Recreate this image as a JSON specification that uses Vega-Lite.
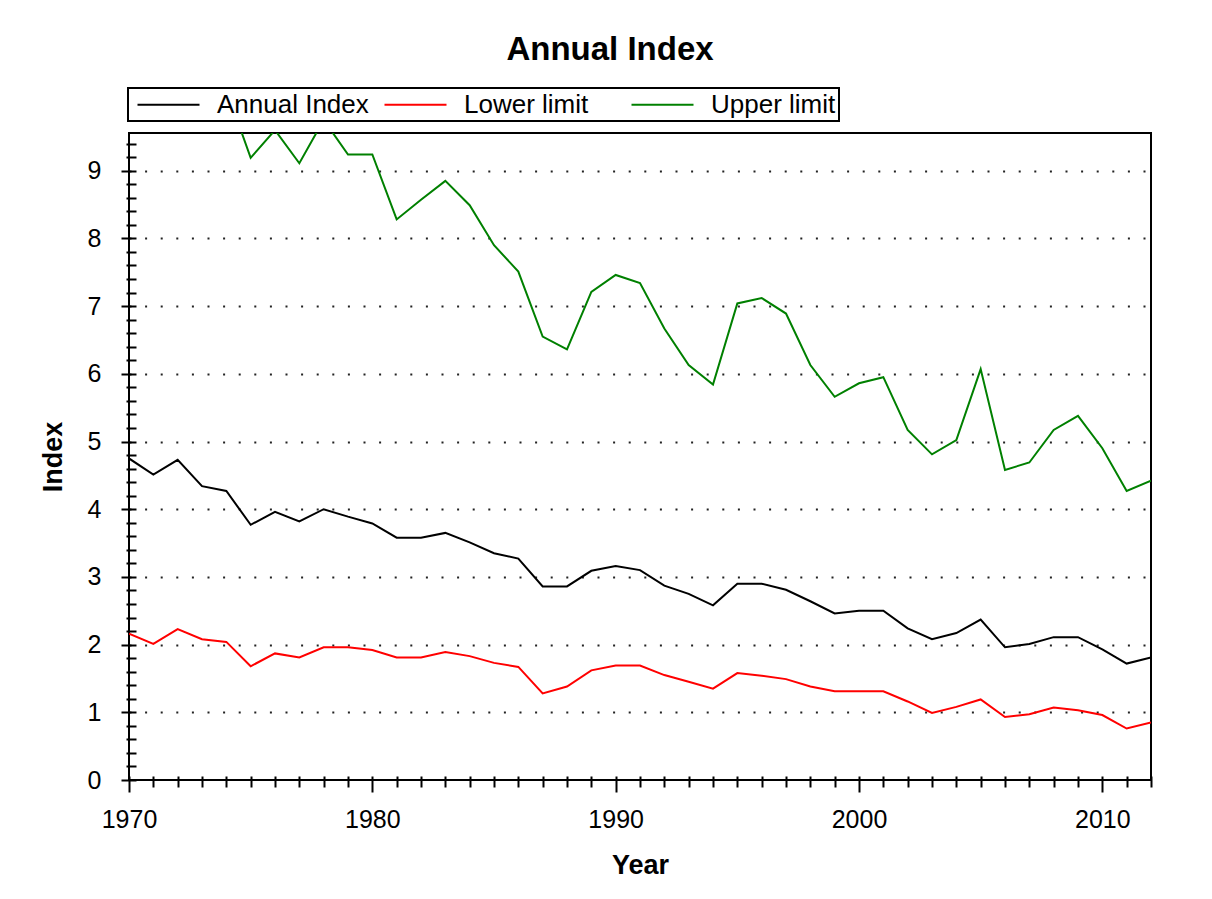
{
  "$schema": "https://vega.github.io/schema/vega-lite/v6.json",
  "width": 1022,
  "height": 647,
  "autosize": {"type": "none"},
  "padding": {"left": 129, "top": 133, "right": 61, "bottom": 119},
  "background": "white",
  "title": {"text": "Annual Index", "font": "Liberation Sans", "fontSize": 33, "fontWeight": "bold", "color": "black", "anchor": "middle", "offset": 20, "dx": -30},
  "data": {"values": [
    {"Year": 1970, "Series": "Annual Index", "Index": 4.75}, {"Year": 1971, "Series": "Annual Index", "Index": 4.51}, {"Year": 1972, "Series": "Annual Index", "Index": 4.73}, {"Year": 1973, "Series": "Annual Index", "Index": 4.34}, {"Year": 1974, "Series": "Annual Index", "Index": 4.27},
    {"Year": 1975, "Series": "Annual Index", "Index": 3.77}, {"Year": 1976, "Series": "Annual Index", "Index": 3.96}, {"Year": 1977, "Series": "Annual Index", "Index": 3.82}, {"Year": 1978, "Series": "Annual Index", "Index": 4.00}, {"Year": 1979, "Series": "Annual Index", "Index": 3.89},
    {"Year": 1980, "Series": "Annual Index", "Index": 3.79}, {"Year": 1981, "Series": "Annual Index", "Index": 3.58}, {"Year": 1982, "Series": "Annual Index", "Index": 3.58}, {"Year": 1983, "Series": "Annual Index", "Index": 3.65}, {"Year": 1984, "Series": "Annual Index", "Index": 3.51},
    {"Year": 1985, "Series": "Annual Index", "Index": 3.35}, {"Year": 1986, "Series": "Annual Index", "Index": 3.27}, {"Year": 1987, "Series": "Annual Index", "Index": 2.86}, {"Year": 1988, "Series": "Annual Index", "Index": 2.86}, {"Year": 1989, "Series": "Annual Index", "Index": 3.09},
    {"Year": 1990, "Series": "Annual Index", "Index": 3.16}, {"Year": 1991, "Series": "Annual Index", "Index": 3.10}, {"Year": 1992, "Series": "Annual Index", "Index": 2.87}, {"Year": 1993, "Series": "Annual Index", "Index": 2.75}, {"Year": 1994, "Series": "Annual Index", "Index": 2.58},
    {"Year": 1995, "Series": "Annual Index", "Index": 2.90}, {"Year": 1996, "Series": "Annual Index", "Index": 2.90}, {"Year": 1997, "Series": "Annual Index", "Index": 2.81}, {"Year": 1998, "Series": "Annual Index", "Index": 2.64}, {"Year": 1999, "Series": "Annual Index", "Index": 2.46},
    {"Year": 2000, "Series": "Annual Index", "Index": 2.50}, {"Year": 2001, "Series": "Annual Index", "Index": 2.50}, {"Year": 2002, "Series": "Annual Index", "Index": 2.24}, {"Year": 2003, "Series": "Annual Index", "Index": 2.08}, {"Year": 2004, "Series": "Annual Index", "Index": 2.17},
    {"Year": 2005, "Series": "Annual Index", "Index": 2.37}, {"Year": 2006, "Series": "Annual Index", "Index": 1.96}, {"Year": 2007, "Series": "Annual Index", "Index": 2.01}, {"Year": 2008, "Series": "Annual Index", "Index": 2.11}, {"Year": 2009, "Series": "Annual Index", "Index": 2.11},
    {"Year": 2010, "Series": "Annual Index", "Index": 1.93}, {"Year": 2011, "Series": "Annual Index", "Index": 1.72}, {"Year": 2012, "Series": "Annual Index", "Index": 1.81},
    {"Year": 1970, "Series": "Lower limit", "Index": 2.16}, {"Year": 1971, "Series": "Lower limit", "Index": 2.01}, {"Year": 1972, "Series": "Lower limit", "Index": 2.23}, {"Year": 1973, "Series": "Lower limit", "Index": 2.08}, {"Year": 1974, "Series": "Lower limit", "Index": 2.04},
    {"Year": 1975, "Series": "Lower limit", "Index": 1.68}, {"Year": 1976, "Series": "Lower limit", "Index": 1.87}, {"Year": 1977, "Series": "Lower limit", "Index": 1.81}, {"Year": 1978, "Series": "Lower limit", "Index": 1.96}, {"Year": 1979, "Series": "Lower limit", "Index": 1.96},
    {"Year": 1980, "Series": "Lower limit", "Index": 1.92}, {"Year": 1981, "Series": "Lower limit", "Index": 1.81}, {"Year": 1982, "Series": "Lower limit", "Index": 1.81}, {"Year": 1983, "Series": "Lower limit", "Index": 1.89}, {"Year": 1984, "Series": "Lower limit", "Index": 1.83},
    {"Year": 1985, "Series": "Lower limit", "Index": 1.73}, {"Year": 1986, "Series": "Lower limit", "Index": 1.67}, {"Year": 1987, "Series": "Lower limit", "Index": 1.28}, {"Year": 1988, "Series": "Lower limit", "Index": 1.38}, {"Year": 1989, "Series": "Lower limit", "Index": 1.62},
    {"Year": 1990, "Series": "Lower limit", "Index": 1.69}, {"Year": 1991, "Series": "Lower limit", "Index": 1.69}, {"Year": 1992, "Series": "Lower limit", "Index": 1.55}, {"Year": 1993, "Series": "Lower limit", "Index": 1.45}, {"Year": 1994, "Series": "Lower limit", "Index": 1.35},
    {"Year": 1995, "Series": "Lower limit", "Index": 1.58}, {"Year": 1996, "Series": "Lower limit", "Index": 1.54}, {"Year": 1997, "Series": "Lower limit", "Index": 1.49}, {"Year": 1998, "Series": "Lower limit", "Index": 1.38}, {"Year": 1999, "Series": "Lower limit", "Index": 1.31},
    {"Year": 2000, "Series": "Lower limit", "Index": 1.31}, {"Year": 2001, "Series": "Lower limit", "Index": 1.31}, {"Year": 2002, "Series": "Lower limit", "Index": 1.16}, {"Year": 2003, "Series": "Lower limit", "Index": 0.99}, {"Year": 2004, "Series": "Lower limit", "Index": 1.08},
    {"Year": 2005, "Series": "Lower limit", "Index": 1.19}, {"Year": 2006, "Series": "Lower limit", "Index": 0.93}, {"Year": 2007, "Series": "Lower limit", "Index": 0.97}, {"Year": 2008, "Series": "Lower limit", "Index": 1.07}, {"Year": 2009, "Series": "Lower limit", "Index": 1.03},
    {"Year": 2010, "Series": "Lower limit", "Index": 0.96}, {"Year": 2011, "Series": "Lower limit", "Index": 0.76}, {"Year": 2012, "Series": "Lower limit", "Index": 0.85},
    {"Year": 1970, "Series": "Upper limit", "Index": 11.2}, {"Year": 1971, "Series": "Upper limit", "Index": 10.6}, {"Year": 1972, "Series": "Upper limit", "Index": 11.0}, {"Year": 1973, "Series": "Upper limit", "Index": 10.4}, {"Year": 1974, "Series": "Upper limit", "Index": 10.2},
    {"Year": 1975, "Series": "Upper limit", "Index": 9.19}, {"Year": 1976, "Series": "Upper limit", "Index": 9.6}, {"Year": 1977, "Series": "Upper limit", "Index": 9.11}, {"Year": 1978, "Series": "Upper limit", "Index": 9.75}, {"Year": 1979, "Series": "Upper limit", "Index": 9.24},
    {"Year": 1980, "Series": "Upper limit", "Index": 9.24}, {"Year": 1981, "Series": "Upper limit", "Index": 8.28}, {"Year": 1982, "Series": "Upper limit", "Index": 8.57}, {"Year": 1983, "Series": "Upper limit", "Index": 8.85}, {"Year": 1984, "Series": "Upper limit", "Index": 8.49},
    {"Year": 1985, "Series": "Upper limit", "Index": 7.90}, {"Year": 1986, "Series": "Upper limit", "Index": 7.51}, {"Year": 1987, "Series": "Upper limit", "Index": 6.55}, {"Year": 1988, "Series": "Upper limit", "Index": 6.36}, {"Year": 1989, "Series": "Upper limit", "Index": 7.21},
    {"Year": 1990, "Series": "Upper limit", "Index": 7.46}, {"Year": 1991, "Series": "Upper limit", "Index": 7.34}, {"Year": 1992, "Series": "Upper limit", "Index": 6.67}, {"Year": 1993, "Series": "Upper limit", "Index": 6.13}, {"Year": 1994, "Series": "Upper limit", "Index": 5.84},
    {"Year": 1995, "Series": "Upper limit", "Index": 7.04}, {"Year": 1996, "Series": "Upper limit", "Index": 7.12}, {"Year": 1997, "Series": "Upper limit", "Index": 6.89}, {"Year": 1998, "Series": "Upper limit", "Index": 6.13}, {"Year": 1999, "Series": "Upper limit", "Index": 5.66},
    {"Year": 2000, "Series": "Upper limit", "Index": 5.86}, {"Year": 2001, "Series": "Upper limit", "Index": 5.95}, {"Year": 2002, "Series": "Upper limit", "Index": 5.17}, {"Year": 2003, "Series": "Upper limit", "Index": 4.81}, {"Year": 2004, "Series": "Upper limit", "Index": 5.02},
    {"Year": 2005, "Series": "Upper limit", "Index": 6.07}, {"Year": 2006, "Series": "Upper limit", "Index": 4.58}, {"Year": 2007, "Series": "Upper limit", "Index": 4.69}, {"Year": 2008, "Series": "Upper limit", "Index": 5.17}, {"Year": 2009, "Series": "Upper limit", "Index": 5.38},
    {"Year": 2010, "Series": "Upper limit", "Index": 4.90}, {"Year": 2011, "Series": "Upper limit", "Index": 4.27}, {"Year": 2012, "Series": "Upper limit", "Index": 4.42}
  ]},
  "mark": {"type": "line", "strokeWidth": 2, "clip": true},
  "encoding": {
    "x": {
      "field": "Year", "type": "quantitative",
      "scale": {"domain": [1970, 2012], "nice": false, "zero": false},
      "axis": {
        "title": "Year",
        "values": [1970,1971,1972,1973,1974,1975,1976,1977,1978,1979,1980,1981,1982,1983,1984,1985,1986,1987,1988,1989,1990,1991,1992,1993,1994,1995,1996,1997,1998,1999,2000,2001,2002,2003,2004,2005,2006,2007,2008,2009,2010,2011,2012],
        "format": "d",
        "labelExpr": "datum.value % 10 === 0 ? datum.label : ''",
        "labelOverlap": false,
        "labelFlush": false,
        "grid": false,
        "domain": false,
        "offset": -4,
        "tickSize": {"condition": {"test": "datum.value % 10 === 0", "value": 16}, "value": 11},
        "labelPadding": 15,
        "titlePadding": 20
      }
    },
    "y": {
      "field": "Index", "type": "quantitative",
      "scale": {"domain": [0, 9.557], "nice": false},
      "axis": {
        "title": "Index",
        "values": [0,0.2,0.4,0.6,0.8,1,1.2,1.4,1.6,1.8,2,2.2,2.4,2.6,2.8,3,3.2,3.4,3.6,3.8,4,4.2,4.4,4.6,4.8,5,5.2,5.4,5.6,5.8,6,6.2,6.4,6.6,6.8,7,7.2,7.4,7.6,7.8,8,8.2,8.4,8.6,8.8,9,9.2,9.4],
        "labelExpr": "abs(datum.value - round(datum.value)) < 0.001 ? format(datum.value, 'd') : ''",
        "labelOverlap": false,
        "labelFlush": false,
        "grid": true,
        "gridOpacity": {"condition": {"test": "abs(datum.value - round(datum.value)) < 0.001 && datum.value > 0", "value": 1}, "value": 0},
        "domain": false,
        "offset": -7,
        "tickSize": {"condition": {"test": "abs(datum.value - round(datum.value)) < 0.001", "value": 15}, "value": 10},
        "labelPadding": 20,
        "titlePadding": 20
      }
    },
    "color": {
      "field": "Series", "type": "nominal",
      "scale": {"domain": ["Annual Index", "Lower limit", "Upper limit"], "range": ["#000000", "#ff0000", "#008000"]},
      "legend": {
        "title": null,
        "orient": "none",
        "legendX": -1,
        "legendY": -45,
        "direction": "horizontal",
        "columns": 3,
        "gridAlign": "all",
        "columnPadding": 9,
        "padding": 3,
        "strokeColor": "black",
        "symbolType": "M-2.48,0L2.48,0",
        "symbolSize": 625,
        "symbolStrokeWidth": 2,
        "symbolOffset": 24,
        "labelOffset": 35,
        "labelFont": "Liberation Sans",
        "labelFontSize": 26,
        "labelColor": "black"
      }
    }
  },
  "config": {
    "view": {"stroke": "black", "strokeWidth": 2},
    "axis": {
      "labelFont": "Liberation Sans",
      "labelFontSize": 25,
      "labelColor": "black",
      "titleFont": "Liberation Sans",
      "titleFontSize": 27,
      "titleFontWeight": "bold",
      "titleColor": "black",
      "tickColor": "black",
      "tickWidth": 2,
      "gridColor": "#222222",
      "gridWidth": 2,
      "gridDash": [2, 13.6]
    },
    "legend": {"strokeWidth": 2}
  }
}
